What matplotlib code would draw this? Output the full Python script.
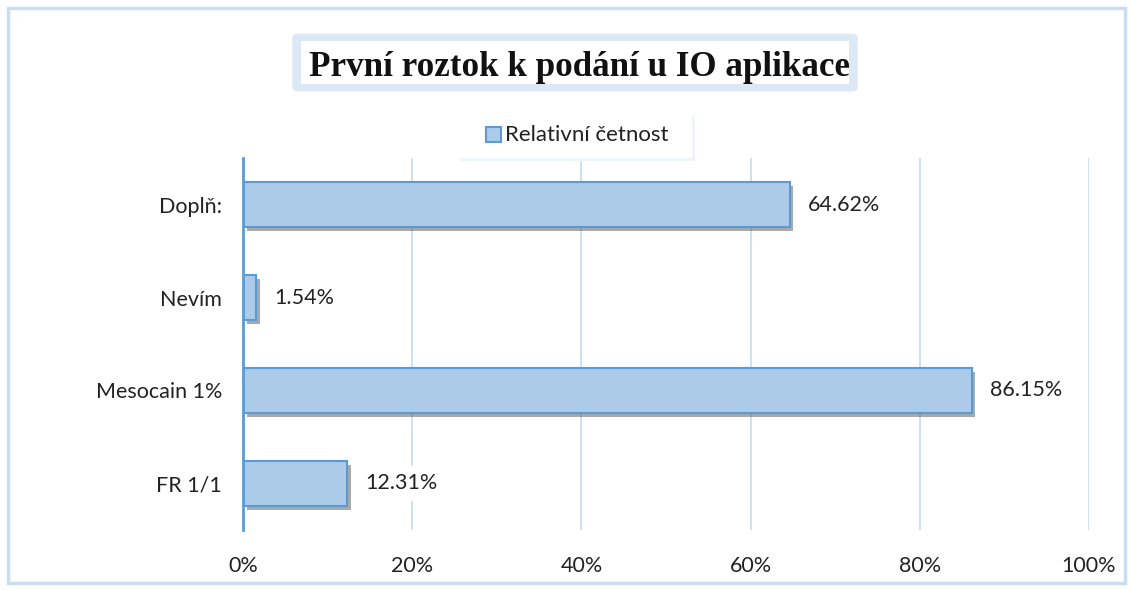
import matplotlib.pyplot as plt
import matplotlib.patheffects as pe
from matplotlib.patches import Rectangle, FancyBboxPatch

kategorie = ["FR 1/1", "Mesocain 1%", "Nevím", "Doplň:"]
hodnoty = [12.31, 86.15, 1.54, 64.62]
tiky = [0, 20, 40, 60, 80, 100]
popisky_tiku = ["0%", "20%", "40%", "60%", "80%", "100%"]

plt.rcParams['font.family'] = ['Lato', 'DejaVu Sans']

fig = plt.figure(figsize=(11.33, 5.9), dpi=100)
ax = fig.add_axes([0.2145, 0.1017, 0.7467, 0.6305])

# outer frame
fig.patches.append(Rectangle((0.007, 0.012), 0.986, 0.975, transform=fig.transFigure,
                             fill=False, edgecolor="#c9def2", linewidth=2.5))

bars = ax.barh(range(len(kategorie)), hodnoty, height=0.48, color="#abcbe9",
               edgecolor="#5b9bd5", linewidth=1.5, zorder=3)
for b in bars:
    b.set_path_effects([pe.SimplePatchShadow(offset=(2.5, -3), shadow_rgbFace="#555555", alpha=0.5),
                        pe.Normal()])

for i, v in enumerate(hodnoty):
    ax.text(v + 2.2, i, f"{v:.2f}%", va="center", ha="left", fontsize=15.5, color="#222222",
            zorder=4,
            bbox=dict(boxstyle="square,pad=0.35", facecolor="white", edgecolor="none"))

ax.set_xlim(0, 100)
ax.set_ylim(-0.5, 3.5)
ax.set_xticks(tiky)
ax.set_xticklabels(popisky_tiku, fontsize=15.5, color="#222222")
ax.set_yticks(range(len(kategorie)))
ax.set_yticklabels(kategorie, fontsize=15.5, color="#222222")
ax.tick_params(length=0)
ax.tick_params(axis="x", pad=19)
ax.tick_params(axis="y", pad=15)
ax.grid(axis="x", color="#c5dbef", linewidth=1.2, zorder=0)
for s in ["top", "right", "bottom"]:
    ax.spines[s].set_visible(False)
ax.spines["left"].set_color("#5b9bd5")
ax.spines["left"].set_linewidth(2)
ax.spines["left"].set_zorder(5)

# title with shadowed box
fig.patches.append(FancyBboxPatch((0.258, 0.845), 0.499, 0.098, transform=fig.transFigure,
                                  boxstyle="round,pad=0,rounding_size=0.006",
                                  facecolor="#dbe8f5", edgecolor="none"))
fig.patches.append(Rectangle((0.2655, 0.858), 0.484, 0.073, transform=fig.transFigure,
                             facecolor="white", edgecolor="none"))
fig.text(0.5115, 0.886, "První roztok k podání u IO aplikace", ha="center", va="center",
         fontsize=25.2, fontweight="bold", family="Liberation Serif", color="#111111")

# legend box
fig.patches.append(Rectangle((0.406, 0.727), 0.207, 0.078, transform=fig.transFigure,
                             facecolor="#f0f5fb", edgecolor="none"))
fig.patches.append(Rectangle((0.404, 0.732), 0.207, 0.076, transform=fig.transFigure,
                             facecolor="white", edgecolor="none"))
fig.patches.append(Rectangle((0.429, 0.759), 0.0132, 0.0254, transform=fig.transFigure,
                             facecolor="#abcbe9", edgecolor="#5b9bd5", linewidth=1.5))
fig.text(0.4457, 0.771, "Relativní četnost", ha="left", va="center", fontsize=16, color="#222222")

fig.savefig("out.png", dpi=100, facecolor="white")
